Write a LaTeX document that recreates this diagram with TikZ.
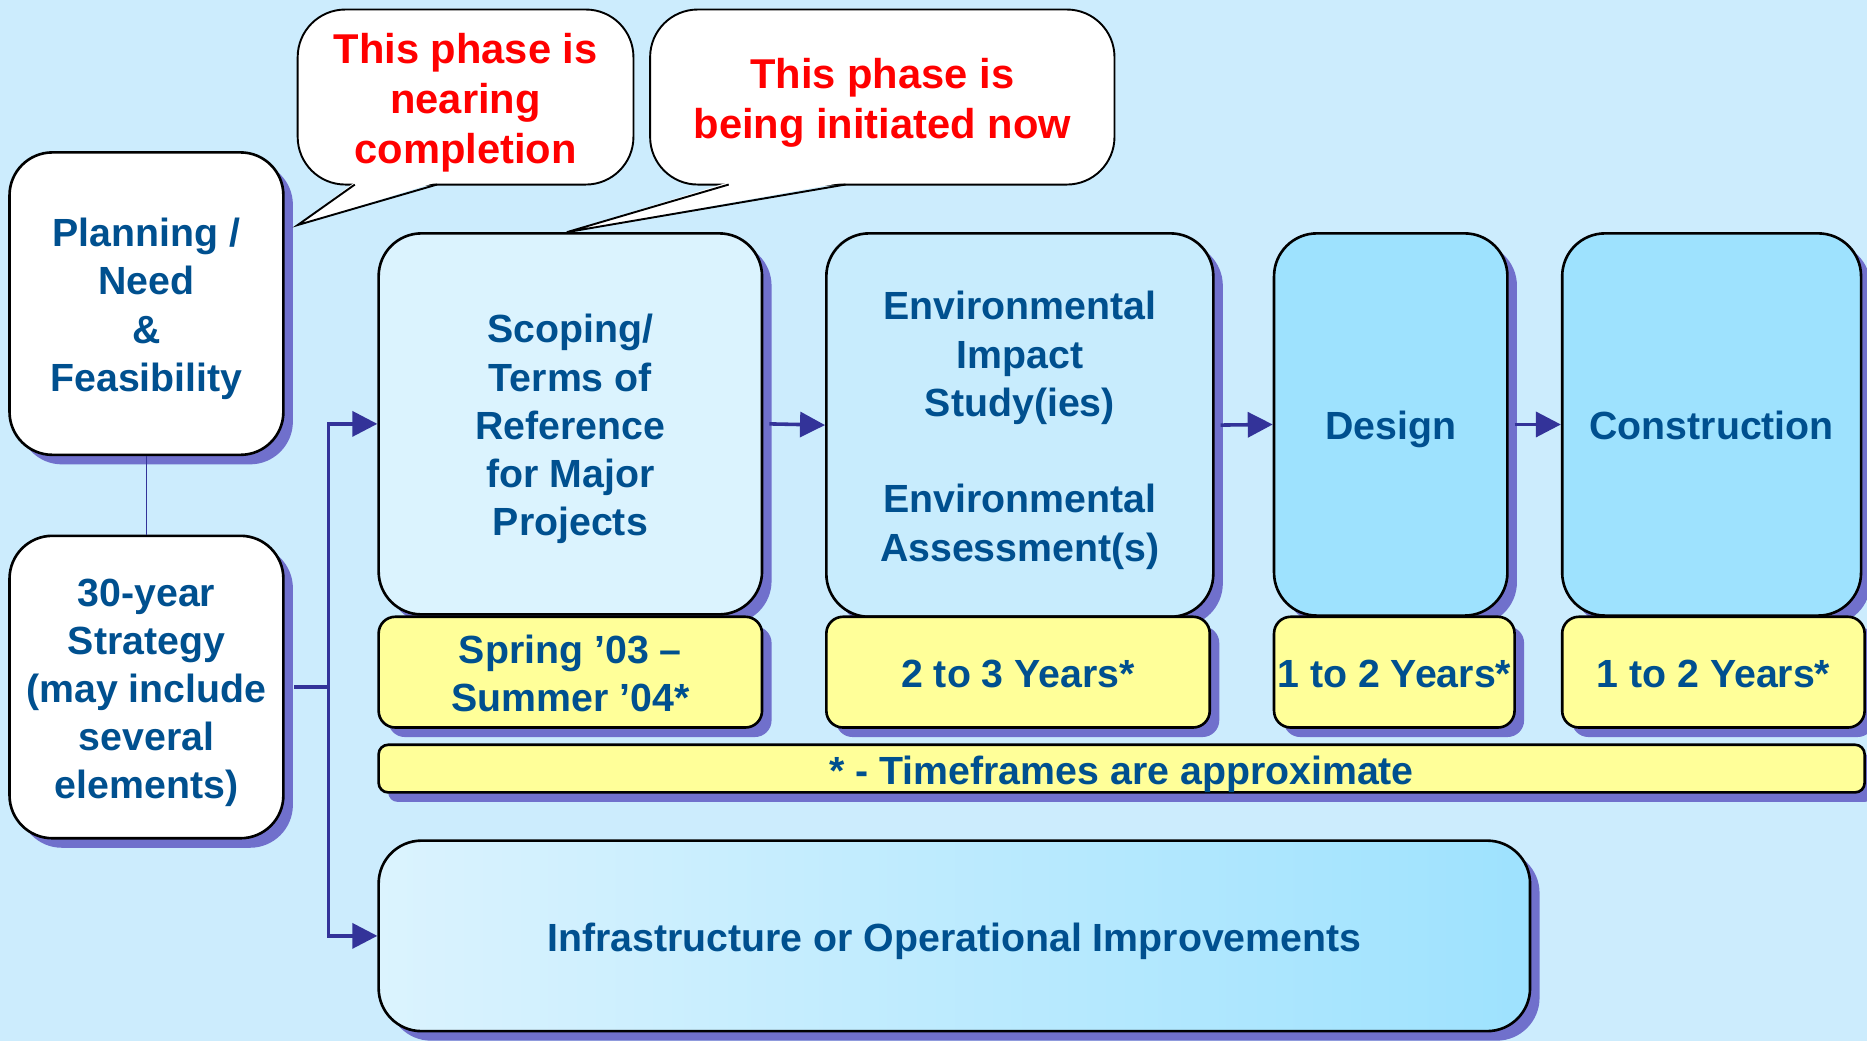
\documentclass[tikz,border=0pt]{standalone}
\usepackage{fontspec}
\setmainfont{Liberation Sans}
\usetikzlibrary{arrows.meta,shadows}

\definecolor{bgc}{RGB}{204,236,253}
\definecolor{txtc}{RGB}{0,80,143}
\definecolor{shdc}{RGB}{112,112,204}
\definecolor{linkc}{RGB}{51,51,153}
\definecolor{paleb}{RGB}{219,243,254}
\definecolor{midb}{RGB}{200,236,253}
\definecolor{skyb}{RGB}{158,226,254}
\definecolor{yelc}{RGB}{255,255,153}

% struts that fix the height of the first line and the depth of the last one
\newcommand\boxstrut{\rule[-7pt]{0pt}{40pt}}
\newcommand\balloonstrut{\rule[-7.4pt]{0pt}{42.4pt}}

\begin{document}
\begin{tikzpicture}[x=1pt,y=-1pt,
  box/.style={draw=black, line width=2.2pt, rounded corners=36pt, inner sep=0pt,
    align=center, text=txtc, font=\fontsize{33}{40.5}\selectfont\bfseries,
    execute at begin node=\boxstrut, execute at end node=\boxstrut,
    general shadow={fill=shdc, shadow xshift=8pt, shadow yshift=-8pt}},
  timebox/.style={box, fill=yelc, rounded corners=14pt},
  balloon/.style={draw=black, line width=1.6pt, fill=white, rounded corners=40pt,
    inner sep=0pt, align=center, text=red, font=\fontsize{35}{42}\selectfont\bfseries,
    execute at begin node=\balloonstrut, execute at end node=\balloonstrut},
  link/.style={draw=linkc, line width=3pt},
  arr/.style={link, -{Triangle[length=21pt,width=21pt]}}]

\useasboundingbox (0,0) rectangle (1568,874);
\fill[bgc] (0,0) rectangle (1568,874);

% left column
\node[box, fill=white, minimum width=230pt, minimum height=254pt] (plan) at (123,255)
  {\boxstrut Planning /\\Need\\\&\\Feasibility};
\node[box, fill=white, minimum width=230pt, minimum height=254pt] (strat) at (123,577)
  {\boxstrut 30-year\\Strategy\\(may include\\several\\elements)};

% phases
\node[box, fill=paleb, minimum width=322pt, minimum height=320pt] (scop) at (479,356)
  {\boxstrut Scoping/\\Terms of\\Reference\\for Major\\Projects};
\node[box, fill=midb, minimum width=325pt, minimum height=322pt] (eis) at (856.5,357)
  {\boxstrut Environmental\\Impact\\Study(ies)\\[40.5pt]Environmental\\Assessment(s)};
\node[box, fill=skyb, minimum width=196pt, minimum height=321pt] (des) at (1168,356.5)
  {Design};
\node[box, fill=skyb, minimum width=251pt, minimum height=321pt] (con) at (1437.5,356.5)
  {Construction};

% timeframes
\node[timebox, minimum width=322pt, minimum height=93pt] (scopT) at (479,564.5)
  {\boxstrut Spring ’03 –\\Summer ’04*};
\node[timebox, minimum width=322pt, minimum height=93pt] (eisT) at (855,564.5)
  {2 to 3 Years*};
\node[timebox, minimum width=202pt, minimum height=93pt] (desT) at (1171,564.5)
  {1 to 2 Years*};
\node[timebox, minimum width=254pt, minimum height=93pt] (conT) at (1439,564.5)
  {1 to 2 Years*};
\node[timebox, rounded corners=8pt, minimum width=1248pt, minimum height=39pt] (note) at (942,645.5)
  {* - Timeframes are approximate};

% infrastructure
\node[box, left color=paleb, right color=skyb, minimum width=967pt, minimum height=160pt] (infra) at (801.5,786)
  {Infrastructure or Operational Improvements};

% connectors
\draw[draw=linkc, line width=1.3pt] (plan.south) -- (strat.north);
\coordinate (split) at (276,577);
\draw[link] ([xshift=8pt]strat.east) -- (split);
\draw[arr] (split) |- (scop.west);
\draw[arr] (split) |- (infra.west);
\draw[arr] ([xshift=5pt]scop.east) -- (eis.west);
\draw[arr] ([xshift=5pt]eis.east) -- (des.west);
\draw[arr] ([xshift=5pt]des.east) -- (con.west);

% speech balloons
\node[balloon, minimum width=282pt, minimum height=147pt] (note1) at (391,81.5)
  {\balloonstrut This phase is\\nearing\\completion};
\coordinate (tip1) at (250,189);
\fill[white] (298,153) -- (tip1) -- (367,153) -- cycle;
\draw[line width=1.6pt] (298,155) -- (tip1) -- (367,155);

\node[balloon, minimum width=390pt, minimum height=147pt] (note2) at (741,81.5)
  {\balloonstrut This phase is\\being initiated now};
\coordinate (tip2) at (476,195);
\fill[white] (612,153) -- (tip2) -- (710,153) -- cycle;
\draw[line width=1.6pt] (612,155) -- (tip2) -- (710,155);
\end{tikzpicture}
\end{document}
